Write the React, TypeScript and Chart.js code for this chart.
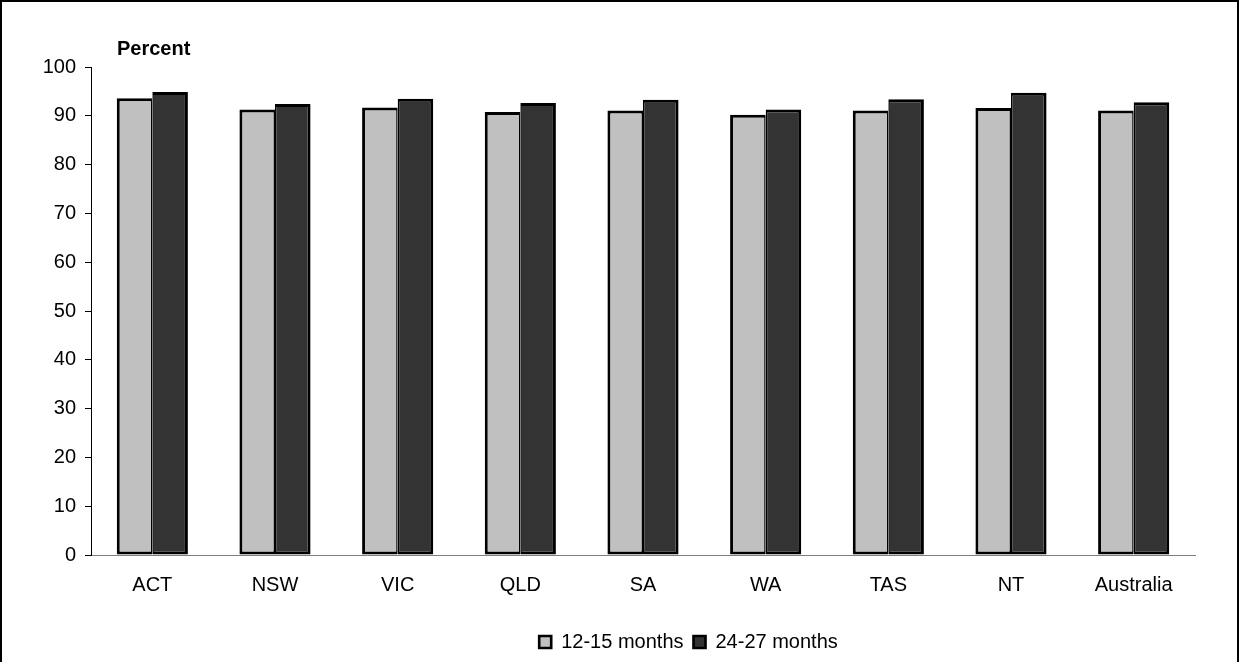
import React, { useEffect, useRef } from 'react';
import { Chart, registerables } from 'chart.js';

Chart.register(...registerables);

const categories = ['ACT', 'NSW', 'VIC', 'QLD', 'SA', 'WA', 'TAS', 'NT', 'Australia'];
const seriesLabels = ['12-15 months', '24-27 months'];
const months12to15 = [93.6, 91.3, 91.7, 90.8, 91.1, 90.2, 91.1, 91.6, 91.1];
const months24to27 = [94.9, 92.4, 93.5, 92.6, 93.3, 91.3, 93.4, 94.7, 92.8];
const yAxisTitle = 'Percent';
const yMin = 0;
const yMax = 100;
const yStep = 10;

const FONT_FAMILY = "'Liberation Sans', Arial, Helvetica, sans-serif";
const FONT_SIZE = 20;
const LEGEND_SHIFT = 91;

const extrasPlugin = {
  id: 'extrasPlugin',
  afterLayout(chart: any) {
    const lg = chart.legend;
    if (lg) {
      lg.left += LEGEND_SHIFT;
      lg.right += LEGEND_SHIFT;
    }
  },
  afterDraw(chart: any) {
    const ctx = chart.ctx;
    const area = chart.chartArea;
    ctx.save();
    ctx.font = `bold ${FONT_SIZE}px ${FONT_FAMILY}`;
    ctx.fillStyle = '#000';
    ctx.textAlign = 'left';
    ctx.textBaseline = 'alphabetic';
    ctx.fillText(yAxisTitle, area.left + 26, area.top - 12);
    ctx.restore();
  },
};

export default function App() {
  const canvasRef = useRef<HTMLCanvasElement | null>(null);

  useEffect(() => {
    if (!canvasRef.current) return;
    const font = { family: FONT_FAMILY, size: FONT_SIZE };
    const chart = new Chart(canvasRef.current, {
      type: 'bar',
      data: {
        labels: categories,
        datasets: [
          {
            label: seriesLabels[0],
            data: months12to15,
            backgroundColor: '#c0c0c0',
            borderColor: '#000000',
            borderWidth: { top: 3, left: 3, right: 1.5, bottom: 3 },
            borderSkipped: false,
            categoryPercentage: 0.58,
            barPercentage: 1,
          },
          {
            label: seriesLabels[1],
            data: months24to27,
            backgroundColor: '#333333',
            borderColor: '#000000',
            borderWidth: { top: 3, left: 1.5, right: 3, bottom: 3 },
            borderSkipped: false,
            categoryPercentage: 0.58,
            barPercentage: 1,
          },
        ],
      },
      options: {
        animation: false,
        responsive: false,
        devicePixelRatio: 1,
        events: [],
        layout: { padding: { top: 67, right: 44, bottom: 0, left: 0 } },
        plugins: {
          tooltip: { enabled: false },
          title: { display: false },
          legend: {
            display: true,
            position: 'bottom',
            labels: {
              boxWidth: 12,
              boxHeight: 12,
              padding: 10,
              color: '#000',
              font,
            },
          },
        },
        scales: {
          x: {
            grid: { display: false, drawTicks: false },
            border: { display: true, color: '#808080', width: 1 },
            ticks: { color: '#000', font, padding: 18, autoSkip: false, maxRotation: 0 },
            afterFit: (s: any) => {
              s.height = 67;
            },
          },
          y: {
            min: yMin,
            max: yMax,
            ticks: { stepSize: yStep, color: '#000', font, padding: 9 },
            grid: {
              display: true,
              drawOnChartArea: false,
              drawTicks: true,
              tickLength: 6,
              color: '#000',
            },
            border: { display: true, color: '#000', width: 1 },
            afterFit: (s: any) => {
              s.width = 91;
            },
          },
        },
      },
      plugins: [extrasPlugin],
    });
    return () => chart.destroy();
  }, []);

  return (
    <div style={{ position: 'absolute', left: 0, top: 0, width: 1239, height: 662, background: '#fff', overflow: 'hidden' }}>
      <canvas ref={canvasRef} width={1239} height={662} style={{ position: 'absolute', left: 0, top: 0 }} />
      <div
        style={{
          position: 'absolute',
          left: 0,
          top: 0,
          width: 1239,
          height: 670,
          boxSizing: 'border-box',
          borderTop: '2px solid #000',
          borderLeft: '2px solid #000',
          borderRight: '2px solid #000',
          pointerEvents: 'none',
        }}
      />
    </div>
  );
}
